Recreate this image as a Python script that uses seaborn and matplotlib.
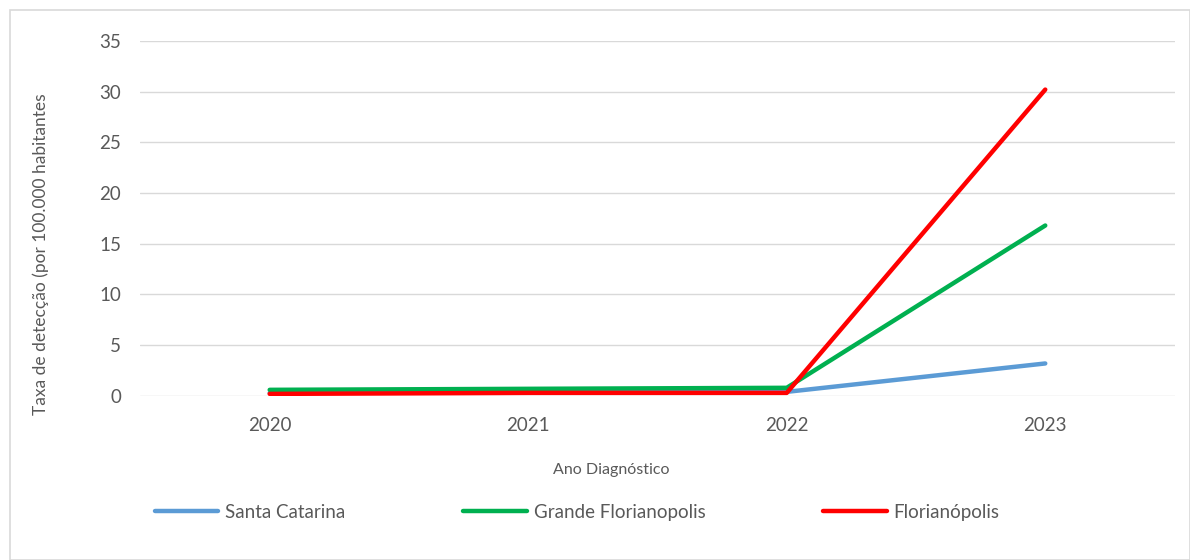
import matplotlib
matplotlib.use("Agg")
import matplotlib.pyplot as plt
import seaborn as sns
import pandas as pd
from matplotlib.patches import Rectangle

years = ["2020", "2021", "2022", "2023"]
santa_catarina = [0.3, 0.4, 0.4, 3.2]
grande_floripa = [0.6, 0.7, 0.8, 16.8]
florianopolis = [0.2, 0.3, 0.3, 30.2]
series_names = ["Santa Catarina", "Grande Florianopolis", "Florianópolis"]
colors = ["#5b9bd5", "#00b050", "#ff0000"]

rows = []
for name, vals in zip(series_names, [santa_catarina, grande_floripa, florianopolis]):
    for y, v in zip(years, vals):
        rows.append({"Ano": y, "Valor": v, "Serie": name})
df = pd.DataFrame(rows)

sns.set_theme(style="white")
plt.rcParams["font.family"] = ["Lato", "DejaVu Sans"]

fig = plt.figure(figsize=(11.9, 5.6), dpi=100)
ax = fig.add_axes([0.118, 0.293, 0.869, 0.634])

sns.lineplot(data=df, x="Ano", y="Valor", hue="Serie", palette=colors,
             hue_order=series_names, linewidth=3.2, ax=ax, sort=False)

ax.set_xlim(-0.5, 3.5)
ax.set_ylim(0, 35)
ax.set_yticks(range(0, 36, 5))
ax.yaxis.grid(True, color="#d9d9d9", linewidth=1)
ax.set_axisbelow(True)
for s in ax.spines.values():
    s.set_visible(False)
ax.tick_params(axis="both", colors="#595959", labelsize=13.5, length=0)
ax.tick_params(axis="y", pad=14)
ax.tick_params(axis="x", pad=15)
ax.set_xlabel("Ano Diagnóstico", fontsize=11.5, color="#595959")
ax.xaxis.set_label_coords(0.455, -0.19)
ax.set_ylabel("Taxa de detecção (por 100.000 habitantes", fontsize=12.5, color="#595959")
ax.yaxis.set_label_coords(-0.088, 0.40)

handles, labels = ax.get_legend_handles_labels()
ax.legend(handles, labels, loc="center", bbox_to_anchor=(0.485, 0.085),
          bbox_transform=fig.transFigure, ncol=3, frameon=False,
          fontsize=13.5, labelcolor="#595959", handlelength=3.4, handletextpad=0.35,
          columnspacing=6.3)

fig.patches.append(Rectangle((10/1190, 0), 1 - 10/1190, 1 - 10/560, transform=fig.transFigure,
                             fill=False, edgecolor="#d9d9d9", linewidth=1.2))

fig.savefig("out.png", dpi=100)
